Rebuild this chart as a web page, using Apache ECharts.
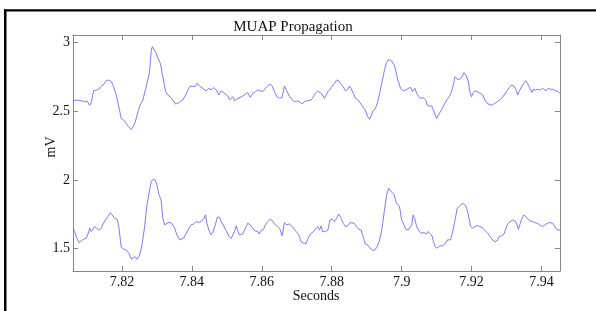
<!DOCTYPE html>
<html><head><meta charset="utf-8">
<script src="https://cdn.jsdelivr.net/npm/echarts@6/dist/echarts.min.js"></script>
<style>html,body{margin:0;padding:0;background:#fff}#c{width:596px;height:311px}</style>
</head><body><div id="c"></div>
<script>
const titleText = 'MUAP Propagation';
const xName = 'Seconds';
const yName = 'mV';
const xTicks = [7.82, 7.84, 7.86, 7.88, 7.9, 7.92, 7.94];
const yTicks = [1.5, 2, 2.5, 3];

const topTime = [
7.8060,7.8069,7.8084,7.8093,7.8100,7.8108,7.8112,7.8119,7.8127,7.8134,7.8139,7.8144,7.8149,7.8155,7.8163,7.8170,7.8176,7.8184,7.8191,7.8198,7.8205,7.8212,7.8220,7.8227,7.8231,7.8237,7.8246,7.8252,7.8260,7.8268,7.8274,7.8279,7.8284,7.8287,7.8291,7.8296,7.8303,7.8310,7.8317,7.8325,7.8332,7.8338,7.8346,7.8353,7.8360,7.8367,7.8374,7.8382,7.8389,7.8395,7.8403,7.8411,7.8415,7.8422,7.8427,7.8432,7.8436,7.8441,7.8449,7.8455,7.8462,7.8470,7.8477,7.8484,7.8491,7.8496,7.8503,7.8508,7.8513,7.8517,7.8522,7.8527,7.8532,7.8536,
7.8546,7.8553,7.8560,7.8567,7.8574,7.8582,7.8589,7.8595,7.8603,7.8610,7.8617,7.8624,7.8630,7.8636,7.8643,7.8651,7.8658,7.8665,7.8671,7.8679,7.8687,7.8693,7.8700,7.8708,7.8715,7.8722,7.8729,7.8734,7.8741,7.8748,7.8753,7.8760,7.8765,7.8772,7.8779,7.8784,7.8789,7.8795,7.8801,7.8808,7.8814,7.8820,7.8827,7.8833,7.8839,7.8846,7.8851,7.8855,7.8862,7.8868,7.8874,7.8881,7.8889,7.8896,7.8903,7.8908,7.8913,7.8917,7.8925,7.8932,7.8938,7.8944,7.8951,7.8957,7.8963,7.8970,7.8975,7.8979,7.8984,7.8989,7.8994,
7.8997,7.9005,7.9012,7.9019,7.9026,7.9031,7.9038,7.9043,7.9048,7.9054,7.9062,7.9069,7.9073,7.9079,7.9086,7.9091,7.9095,7.9100,7.9105,7.9110,7.9114,7.9121,7.9129,7.9136,7.9143,7.9150,7.9153,7.9157,7.9162,7.9169,7.9174,7.9178,7.9184,7.9191,7.9195,7.9200,7.9205,7.9210,7.9216,7.9224,7.9232,7.9238,7.9245,7.9253,7.9260,7.9267,7.9274,7.9279,7.9286,7.9293,7.9300,7.9308,7.9314,7.9321,7.9327,7.9332,7.9336,7.9343,7.9350,7.9355,7.9360,7.9365,7.9369,7.9373,7.9376,7.9383,7.9391,7.9397,7.9403,7.9407,7.9413,7.9419,7.9426,7.9434,7.9441,7.9448,7.9453
];
const topMv = [
2.577,2.582,2.577,2.570,2.575,2.543,2.563,2.650,2.655,2.660,2.679,2.667,2.699,2.723,2.728,2.716,2.679,2.618,2.533,2.448,2.436,2.412,2.383,2.368,2.375,2.412,2.497,2.546,2.582,2.667,2.728,2.789,2.947,2.971,2.966,2.934,2.886,2.849,2.752,2.643,2.618,2.606,2.582,2.553,2.558,2.570,2.582,2.618,2.655,2.684,2.679,2.684,2.704,2.684,2.691,2.667,2.679,2.648,2.667,2.655,2.672,2.655,2.618,2.648,2.635,2.643,2.611,2.582,2.594,2.606,2.577,2.570,2.594,2.606,
2.611,2.626,2.635,2.601,2.631,2.643,2.655,2.650,2.643,2.667,2.684,2.699,2.684,2.643,2.606,2.594,2.601,2.684,2.650,2.611,2.582,2.570,2.575,2.570,2.553,2.570,2.577,2.570,2.582,2.606,2.631,2.648,2.643,2.626,2.594,2.618,2.643,2.660,2.684,2.704,2.728,2.723,2.699,2.679,2.650,2.660,2.684,2.667,2.631,2.594,2.587,2.563,2.533,2.509,2.461,2.441,2.465,2.497,2.521,2.570,2.643,2.716,2.801,2.854,2.878,2.869,2.859,2.837,2.789,2.728,2.691,
2.667,2.650,2.655,2.667,2.674,2.643,2.667,2.631,2.611,2.594,2.599,2.582,2.546,2.538,2.538,2.509,2.480,2.448,2.473,2.485,2.509,2.546,2.582,2.606,2.643,2.716,2.752,2.740,2.728,2.740,2.757,2.781,2.764,2.716,2.643,2.606,2.635,2.650,2.643,2.631,2.618,2.582,2.558,2.546,2.546,2.558,2.570,2.577,2.594,2.618,2.643,2.674,2.691,2.684,2.660,2.618,2.643,2.679,2.708,2.723,2.704,2.679,2.655,2.638,2.660,2.655,2.660,2.655,2.667,2.655,2.650,2.667,2.660,2.660,2.650,2.643,2.631
];

const bottomTime = [
7.8060,7.8065,7.8071,7.8077,7.8084,7.8090,7.8098,7.8103,7.8108,7.8112,7.8117,7.8122,7.8127,7.8134,7.8141,7.8146,7.8153,7.8160,7.8167,7.8172,7.8179,7.8186,7.8191,7.8198,7.8205,7.8212,7.8220,7.8227,7.8231,7.8237,7.8243,7.8251,7.8258,7.8265,7.8271,7.8279,7.8284,7.8289,7.8296,7.8300,7.8306,7.8312,7.8317,7.8322,7.8327,7.8332,7.8338,7.8344,7.8351,7.8357,7.8365,7.8370,7.8376,7.8384,7.8392,7.8398,7.8405,7.8413,7.8417,7.8422,7.8427,7.8433,7.8439,7.8443,7.8449,7.8455,7.8460,7.8467,7.8473,7.8479,7.8484,7.8491,7.8498,7.8506,7.8513,7.8517,7.8522,7.8527,7.8532,7.8536,
7.8546,7.8553,7.8560,7.8567,7.8574,7.8579,7.8584,7.8589,7.8593,7.8598,7.8605,7.8610,7.8617,7.8624,7.8630,7.8636,7.8643,7.8651,7.8658,7.8665,7.8671,7.8679,7.8687,7.8693,7.8698,7.8706,7.8712,7.8719,7.8727,7.8734,7.8741,7.8748,7.8753,7.8760,7.8765,7.8770,7.8774,7.8782,7.8789,7.8795,7.8801,7.8808,7.8814,7.8820,7.8827,7.8833,7.8839,7.8846,7.8853,7.8858,7.8865,7.8872,7.8877,7.8884,7.8889,7.8896,7.8903,7.8908,7.8915,7.8922,7.8929,7.8936,7.8944,7.8951,7.8957,7.8963,7.8970,7.8975,7.8979,7.8984,7.8989,7.8994,
7.9000,7.9007,7.9012,7.9019,7.9024,7.9029,7.9033,7.9038,7.9043,7.9051,7.9057,7.9064,7.9071,7.9076,7.9081,7.9086,7.9091,7.9095,7.9100,7.9105,7.9110,7.9117,7.9124,7.9131,7.9136,7.9140,7.9146,7.9152,7.9159,7.9165,7.9172,7.9178,7.9184,7.9191,7.9197,7.9203,7.9210,7.9216,7.9224,7.9232,7.9238,7.9245,7.9253,7.9260,7.9267,7.9274,7.9279,7.9286,7.9293,7.9300,7.9305,7.9310,7.9317,7.9321,7.9327,7.9334,7.9338,7.9343,7.9350,7.9355,7.9360,7.9365,7.9369,7.9375,7.9381,7.9388,7.9395,7.9403,7.9410,7.9416,7.9424,7.9432,7.9438,7.9445,7.9453
];
const bottomMv = [
1.648,1.623,1.575,1.543,1.558,1.567,1.575,1.606,1.648,1.623,1.635,1.660,1.655,1.635,1.648,1.679,1.708,1.733,1.762,1.745,1.721,1.713,1.660,1.509,1.495,1.490,1.465,1.422,1.436,1.441,1.422,1.453,1.538,1.660,1.806,1.927,1.988,2.005,1.995,1.964,1.891,1.854,1.721,1.672,1.684,1.689,1.689,1.679,1.648,1.599,1.563,1.550,1.575,1.611,1.648,1.672,1.679,1.696,1.696,1.689,1.679,1.713,1.745,1.684,1.631,1.599,1.616,1.672,1.728,1.728,1.696,1.665,1.631,1.587,1.575,1.587,1.623,1.665,1.623,1.599,
1.606,1.648,1.684,1.672,1.648,1.631,1.635,1.623,1.606,1.631,1.640,1.672,1.696,1.713,1.704,1.679,1.665,1.648,1.592,1.689,1.672,1.679,1.660,1.640,1.635,1.599,1.550,1.538,1.538,1.582,1.611,1.623,1.640,1.660,1.635,1.665,1.623,1.623,1.635,1.708,1.713,1.696,1.721,1.752,1.721,1.684,1.660,1.665,1.689,1.689,1.684,1.655,1.640,1.635,1.592,1.533,1.526,1.509,1.490,1.485,1.509,1.550,1.648,1.781,1.891,1.939,1.915,1.903,1.891,1.835,1.830,1.806,
1.708,1.672,1.640,1.635,1.640,1.672,1.745,1.713,1.660,1.623,1.611,1.616,1.606,1.623,1.616,1.599,1.550,1.519,1.502,1.514,1.519,1.519,1.533,1.563,1.575,1.563,1.623,1.696,1.793,1.806,1.825,1.825,1.810,1.745,1.660,1.648,1.660,1.667,1.660,1.648,1.631,1.616,1.587,1.563,1.550,1.558,1.587,1.592,1.606,1.660,1.684,1.679,1.708,1.721,1.696,1.640,1.672,1.713,1.745,1.757,1.721,1.704,1.713,1.696,1.689,1.684,1.672,1.660,1.672,1.684,1.689,1.684,1.660,1.635,1.635
];

const X_MIN = 7.806, X_MAX = 7.9453, Y_MIN = 1.336, Y_MAX = 3.056;
const font = '"Liberation Serif","Times New Roman",serif';
const axisGray = '#858585';
const lineBlue = '#6c6cf4';

function pairs(t, v) { const n = Math.min(t.length, v.length); const out = []; for (let i = 0; i < n; i++) out.push([t[i], v[i]]); return out; }

function xAx(pos, labels) {
  return {
    type: 'value', min: X_MIN, max: X_MAX, position: pos, gridIndex: 0,
    axisLine: { show: true, onZero: false, lineStyle: { color: axisGray, width: 1 } },
    axisTick: { show: true, inside: true, length: 5, customValues: xTicks, lineStyle: { color: axisGray, width: 1 } },
    axisLabel: { show: labels, customValues: xTicks, color: '#111', fontFamily: font, fontSize: 14, margin: 4 },
    splitLine: { show: false }
  };
}
function yAx(pos, labels) {
  return {
    type: 'value', min: Y_MIN, max: Y_MAX, position: pos, gridIndex: 0,
    axisLine: { show: true, onZero: false, lineStyle: { color: axisGray, width: 1 } },
    axisTick: { show: true, inside: true, length: 5, customValues: yTicks, lineStyle: { color: axisGray, width: 1 } },
    axisLabel: { show: labels, customValues: yTicks, color: '#111', fontFamily: font, fontSize: 14, margin: 3 },
    splitLine: { show: false }
  };
}

const chart = echarts.init(document.getElementById('c'), null, { renderer: 'canvas' });
chart.setOption({
  animation: false,
  backgroundColor: '#fff',
  grid: { left: 73, top: 35, width: 487, height: 236, containLabel: false },
  xAxis: [xAx('bottom', true), xAx('top', false)],
  yAxis: [yAx('left', true), yAx('right', false)],
  series: [
    { type: 'line', xAxisIndex: 0, yAxisIndex: 0, data: pairs(topTime, topMv), showSymbol: false, symbol: 'none', lineStyle: { color: lineBlue, width: 0.9 } },
    { type: 'line', xAxisIndex: 0, yAxisIndex: 0, data: pairs(bottomTime, bottomMv), showSymbol: false, symbol: 'none', lineStyle: { color: lineBlue, width: 0.9 } }
  ],
  graphic: [
    { type: 'rect', shape: { x: 4, y: 9.3, width: 592, height: 2.3 }, style: { fill: '#000' }, silent: true },
    { type: 'rect', shape: { x: 4, y: 9.3, width: 2.5, height: 302 }, style: { fill: '#000' }, silent: true },
    { type: 'text', x: 293, y: 27, style: { text: titleText, font: '15px ' + font, fill: '#111', textAlign: 'center', textVerticalAlign: 'middle' }, silent: true },
    { type: 'text', x: 316, y: 296, style: { text: xName, font: '14px ' + font, fill: '#111', textAlign: 'center', textVerticalAlign: 'middle' }, silent: true },
    { type: 'text', x: 51, y: 147, rotation: Math.PI / 2, style: { text: yName, font: '14px ' + font, fill: '#111', textAlign: 'center', textVerticalAlign: 'middle' }, silent: true }
  ]
});
</script>
</body></html>
